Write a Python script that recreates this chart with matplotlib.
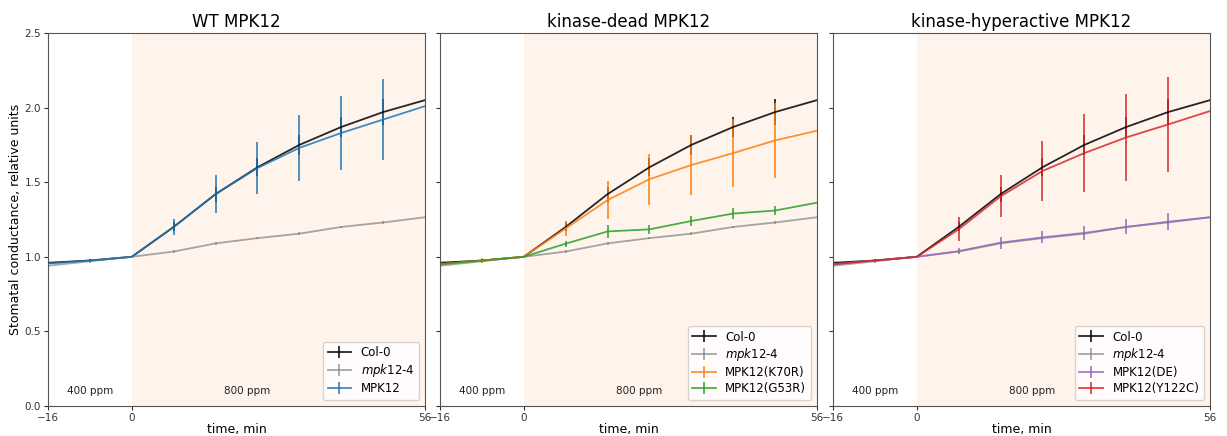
import numpy as np
import matplotlib
matplotlib.use("Agg")
import matplotlib.pyplot as plt

time = [-16, -8, 0, 8, 16, 24, 32, 40, 48, 56]
nan = np.nan

col0 = [0.96, 0.975, 1.0, 1.20, 1.42, 1.60, 1.75, 1.87, 1.97, 2.05]
col0_err = [nan, 0.01, 0.0, 0.03, 0.05, 0.06, 0.065, 0.07, 0.085, nan]
mpk12_4 = [0.94, 0.97, 1.0, 1.035, 1.09, 1.125, 1.155, 1.20, 1.23, 1.265]
mpk12_4_err = [nan, 0.01, 0.0, 0.008, 0.008, 0.008, 0.008, 0.008, 0.01, nan]

mpk12 = [0.955, 0.975, 1.0, 1.20, 1.42, 1.595, 1.73, 1.83, 1.92, 2.01]
mpk12_err = [nan, 0.01, 0.0, 0.055, 0.125, 0.175, 0.22, 0.245, 0.27, nan]

k70r = [0.95, 0.975, 1.0, 1.19, 1.38, 1.52, 1.615, 1.695, 1.78, 1.845]
k70r_err = [nan, 0.015, 0.0, 0.05, 0.125, 0.17, 0.2, 0.23, 0.25, nan]
g53r = [0.95, 0.975, 1.0, 1.088, 1.17, 1.184, 1.24, 1.29, 1.31, 1.363]
g53r_err = [nan, 0.01, 0.0, 0.02, 0.045, 0.03, 0.035, 0.04, 0.03, nan]

de = [0.95, 0.975, 1.0, 1.038, 1.095, 1.13, 1.16, 1.20, 1.235, 1.265]
de_err = [nan, 0.01, 0.0, 0.02, 0.04, 0.04, 0.045, 0.05, 0.058, nan]
y122c = [0.95, 0.975, 1.0, 1.184, 1.405, 1.575, 1.695, 1.80, 1.887, 1.977]
y122c_err = [nan, 0.01, 0.0, 0.08, 0.14, 0.2, 0.26, 0.29, 0.32, nan]

titles = ["WT MPK12", "kinase-dead MPK12", "kinase-hyperactive MPK12"]
panels = [
    [("MPK12", mpk12, mpk12_err, "tab:blue")],
    [("MPK12(K70R)", k70r, k70r_err, "tab:orange"),
     ("MPK12(G53R)", g53r, g53r_err, "tab:green")],
    [("MPK12(DE)", de, de_err, "tab:purple"),
     ("MPK12(Y122C)", y122c, y122c_err, "tab:red")],
]

fig = plt.figure(figsize=(12.27, 4.36), dpi=100)
lefts = [48, 440, 833]
axes = []
for i, lp in enumerate(lefts):
    ax = fig.add_axes([lp / 1227, 1 - 406 / 436, 377 / 1227, 373 / 436])
    axes.append(ax)
    ax.axvspan(0, 56, color="tab:orange", alpha=0.08, lw=0)
    ax.errorbar(time, col0, yerr=col0_err, color="black", lw=1.3, alpha=0.85, label="Col-0")
    ax.errorbar(time, mpk12_4, yerr=mpk12_4_err, color="gray", lw=1.3, alpha=0.7,
                label="$\\mathit{mpk}$12-4")
    for name, vals, errs, c in panels[i]:
        ax.errorbar(time, vals, yerr=errs, color=c, lw=1.3, alpha=0.85, label=name)
    ax.set_xlim(-16, 56)
    ax.set_ylim(0, 2.5)
    ax.set_xticks([-16, 0, 56])
    ax.set_yticks([0, 0.5, 1.0, 1.5, 2.0, 2.5])
    ax.tick_params(labelsize=7.5, length=3, colors="#333333", pad=2)
    if i > 0:
        ax.set_yticklabels([])
    else:
        ax.set_ylabel("Stomatal conductance, relative units", fontsize=9, labelpad=2)
    ax.set_xlabel("time, min", fontsize=9, labelpad=0)
    ax.set_title(titles[i], fontsize=12, pad=4)
    ax.text(-8, 0.1, "400 ppm", fontsize=7.5, ha="center", va="center", color="#222222")
    ax.text(22, 0.1, "800 ppm", fontsize=7.5, ha="center", va="center", color="#222222")
    ax.legend(loc="lower right", fontsize=8.5, handlelength=2.0, borderpad=0.4,
              labelspacing=0.25)
    for s in ax.spines.values():
        s.set_color("#555555")

fig.savefig("out.png", dpi=100)
